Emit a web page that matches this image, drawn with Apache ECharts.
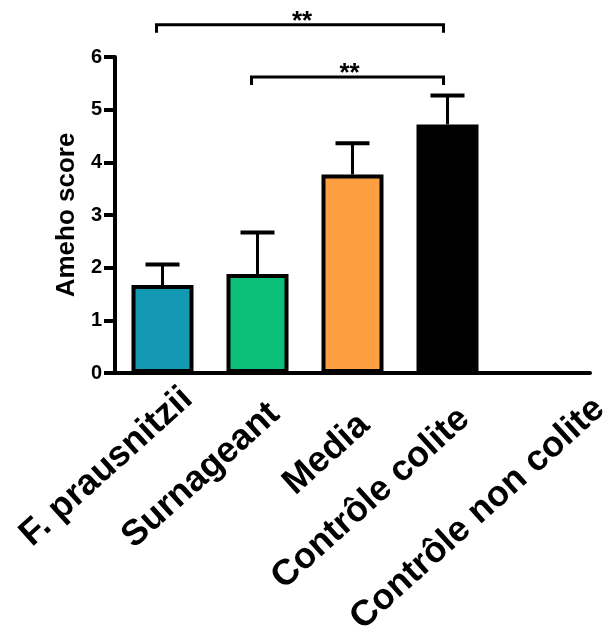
<!DOCTYPE html>
<html>
<head>
<meta charset="utf-8">
<script src="https://cdn.jsdelivr.net/npm/echarts@6/dist/echarts.min.js"></script>
<style>
  html, body { margin: 0; padding: 0; background: #fff; }
  #chart { width: 613px; height: 634px; }
</style>
</head>
<body>
<div id="chart"></div>
<script>
// Groups and mean Ameho scores with the upper end of their error bars
var categories = ['F. prausnitzii', 'Surnageant', 'Media', 'Contrôle colite', 'Contrôle non colite'];
var meanScores = [1.67, 1.88, 3.77, 4.72, 0];
var errorUpper = [2.06, 2.67, 4.36, 5.27, 0];
var barColors = ['#1399b4', '#0cbf78', '#fd9f40', '#000000', '#000000'];
var yTicks = [0, 1, 2, 3, 4, 5, 6];

// Significance brackets: [from group, to group, level on the score axis, label]
var bracketFrom = [0, 1];
var bracketTo = [3, 3];
var bracketLevel = [6.61, 5.62];
var bracketText = ['**', '**'];

var FONT = 'Liberation Sans, Arial, sans-serif';
// Slanted group labels: end point of each label relative to its tick (px)
var LABEL_ROTATE = 42;
var LABEL_SHIFT = [[25, 21], [17, 36], [12, 47], [17, 41], [57, 31]];

var chart = echarts.init(document.getElementById('chart'), null, { renderer: 'canvas' });

var barData = meanScores.map(function (v, i) {
  return { value: v, itemStyle: { color: barColors[i] } };
});
var errData = errorUpper.map(function (u, i) { return [i, meanScores[i], u]; });
var bracketData = bracketFrom.map(function (f, i) {
  return [f, bracketTo[i], bracketLevel[i]];
});
var labelData = categories.map(function (c, i) { return [i, 0]; });

chart.setOption({
  animation: false,
  grid: { left: 115, right: 23, top: 57, bottom: 261, containLabel: false },
  xAxis: {
    type: 'category',
    data: categories,
    axisLine: { lineStyle: { color: '#000', width: 4 } },
    axisTick: { show: false },
    axisLabel: { show: false }
  },
  yAxis: {
    type: 'value',
    min: yTicks[0], max: yTicks[yTicks.length - 1], interval: 1,
    name: 'Ameho score',
    nameLocation: 'middle',
    nameGap: 35,
    nameTextStyle: { color: '#000', fontFamily: FONT, fontWeight: 'bold', fontSize: 26 },
    axisLine: { show: true, lineStyle: { color: '#000', width: 4 } },
    axisTick: { show: true, length: 11, lineStyle: { color: '#000', width: 4 } },
    axisLabel: { color: '#000', fontFamily: FONT, fontWeight: 'bold', fontSize: 20, margin: 13 },
    splitLine: { show: false }
  },
  series: [
    {
      type: 'bar',
      data: barData,
      barWidth: 62,
      itemStyle: { borderColor: '#000', borderWidth: 4 },
      z: 2
    },
    {
      // error bars: stem from the bar top up to a cap
      type: 'custom',
      data: errData,
      z: 1,
      renderItem: function (params, api) {
        if (api.value(2) <= api.value(1)) return null;
        var top = api.coord([api.value(0), api.value(2)]);
        var base = api.coord([api.value(0), api.value(1)]);
        var half = 17;
        return {
          type: 'group',
          children: [
            { type: 'line', shape: { x1: top[0], y1: top[1], x2: base[0], y2: base[1] },
              style: { stroke: '#000', lineWidth: 3 } },
            { type: 'line', shape: { x1: top[0] - half, y1: top[1], x2: top[0] + half, y2: top[1] },
              style: { stroke: '#000', lineWidth: 4 } }
          ]
        };
      }
    },
    {
      // significance brackets with their stars
      type: 'custom',
      data: bracketData,
      z: 3,
      renderItem: function (params, api) {
        var a = api.coord([api.value(0), api.value(2)]);
        var b = api.coord([api.value(1), api.value(2)]);
        var x1 = a[0] - 6, x2 = b[0] - 4, y = a[1];
        var drop = 8;
        return {
          type: 'group',
          children: [
            { type: 'polyline', shape: { points: [[x1, y + drop], [x1, y], [x2, y], [x2, y + drop]] },
              style: { stroke: '#000', lineWidth: 3, fill: null } },
            { type: 'text', style: {
                text: bracketText[params.dataIndex], x: (x1 + x2) / 2 + 2, y: y - 3,
                align: 'center', verticalAlign: 'middle',
                fill: '#000', font: 'bold 26px ' + FONT } }
          ]
        };
      }
    },
    {
      // slanted group names under the axis
      type: 'custom',
      data: labelData,
      z: 4,
      renderItem: function (params, api) {
        var p = api.coord([api.value(0), api.value(1)]);
        var s = LABEL_SHIFT[params.dataIndex];
        return {
          type: 'text',
          x: p[0] + s[0],
          y: p[1] + s[1],
          rotation: LABEL_ROTATE * Math.PI / 180,
          style: {
            text: categories[params.dataIndex],
            align: 'right', verticalAlign: 'middle',
            fill: '#000', font: 'bold 36px ' + FONT
          }
        };
      }
    }
  ]
});
</script>
</body>
</html>
